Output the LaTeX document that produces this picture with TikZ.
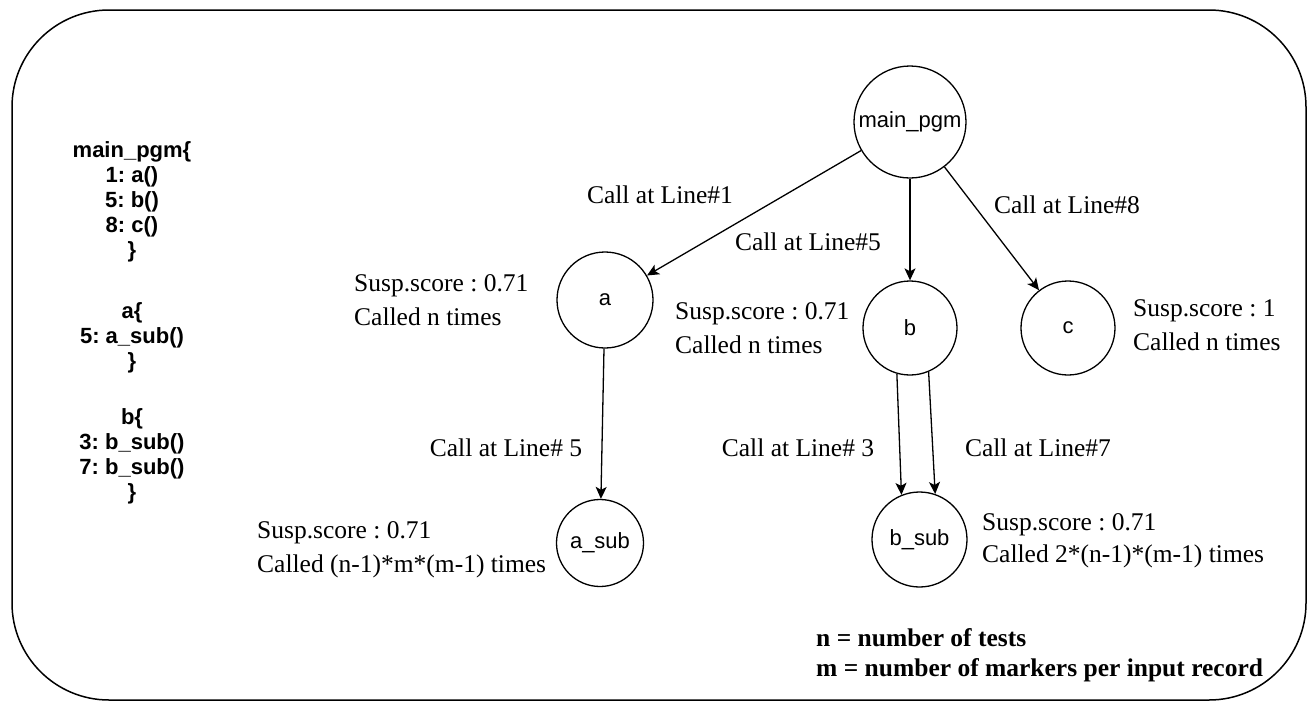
\documentclass[tikz,border=0pt]{standalone}
\usepackage{fontspec}
\setmainfont{Liberation Serif}
\setsansfont{Liberation Sans}
\usetikzlibrary{arrows.meta}
\frenchspacing

\tikzset{
  fn/.style={circle, draw, line width=1.3pt, inner sep=0pt, font=\sffamily\fontsize{22}{26}\selectfont},
  call/.style={line width=1.3pt, -{Stealth[length=12pt,width=11pt,inset=3pt]}},
  lbl/.style={inner sep=0pt, font=\fontsize{25.5}{34}\selectfont},
  info/.style={inner sep=0pt, anchor=west, align=left, font=\fontsize{25.5}{34}\selectfont},
  code/.style={inner sep=0pt, align=center, font=\sffamily\bfseries\fontsize{22}{25}\selectfont},
}

\begin{document}
\begin{tikzpicture}[x=1pt, y=-1pt]
\useasboundingbox (0,0) rectangle (1307,702);

% outer frame
\draw[line width=1.5pt, rounded corners=97pt] (12,10) rectangle (1306,700);

% source listing
\node[code] (lst1) at (132,202) {main\_pgm\{\\1: a()\\5: b()\\8: c()\\\}};
\node[code] (lst2) at (132,337.5) {a\{\\5: a\_sub()\\\}};
\node[code] (lst3) at (132,456.5) {b\{\\3: b\_sub()\\7: b\_sub()\\\}};

% call graph
\node[fn, minimum size=112pt] (main) at (910,122) {main\_pgm};
\node[fn, minimum size=96pt] (a) at (605,300) {a};
\node[fn, minimum size=94pt] (b) at (910,328) {b};
\node[fn, minimum size=94pt] (c) at (1068,328) {c};
\node[fn, minimum size=87pt] (asub) at (600,543) {a\_sub};
\node[fn, minimum size=95pt] (bsub) at (919.5,539.5) {b\_sub};

\draw[call] (main) -- (a);
\draw[call] (main) -- (b);
\draw[call] (main) -- (c);
\draw[call] (a) -- (asub);
\draw[call] (b.-106) -- (bsub.112);
\draw[call] (b.-67) -- (bsub.71);

% edge labels
\node[lbl] (l1) at (660,195) {Call at Line\#1};
\node[lbl] (l5) at (808,242) {Call at Line\#5};
\node[lbl] (l8) at (1067,205) {Call at Line\#8};
\node[lbl] (la5) at (506,448) {Call at Line\# 5};
\node[lbl] (lb3) at (798,448) {Call at Line\# 3};
\node[lbl] (lb7) at (1038,448) {Call at Line\#7};

% node annotations
\node[info] (ia) at (354,300) {Susp.score : 0.71\\Called n times};
\node[info] (ib) at (675,328.5) {Susp.score : 0.71\\Called n times};
\node[info] (ic) at (1133,325) {Susp.score : 1\\Called n times};
\node[info] (iasub) at (257,550) {Susp.score : 0.71\\Called (n-1)*m*(m-1) times};
\node[info, font=\fontsize{25.5}{32}\selectfont] (ibsub) at (982,541) {Susp.score : 0.71\\Called 2*(n-1)*(m-1) times};

% legend
\node[info, font=\bfseries\fontsize{25.5}{30}\selectfont] (legend) at (816,655) {n = number of tests\\m = number of markers per input record};
\end{tikzpicture}
\end{document}
